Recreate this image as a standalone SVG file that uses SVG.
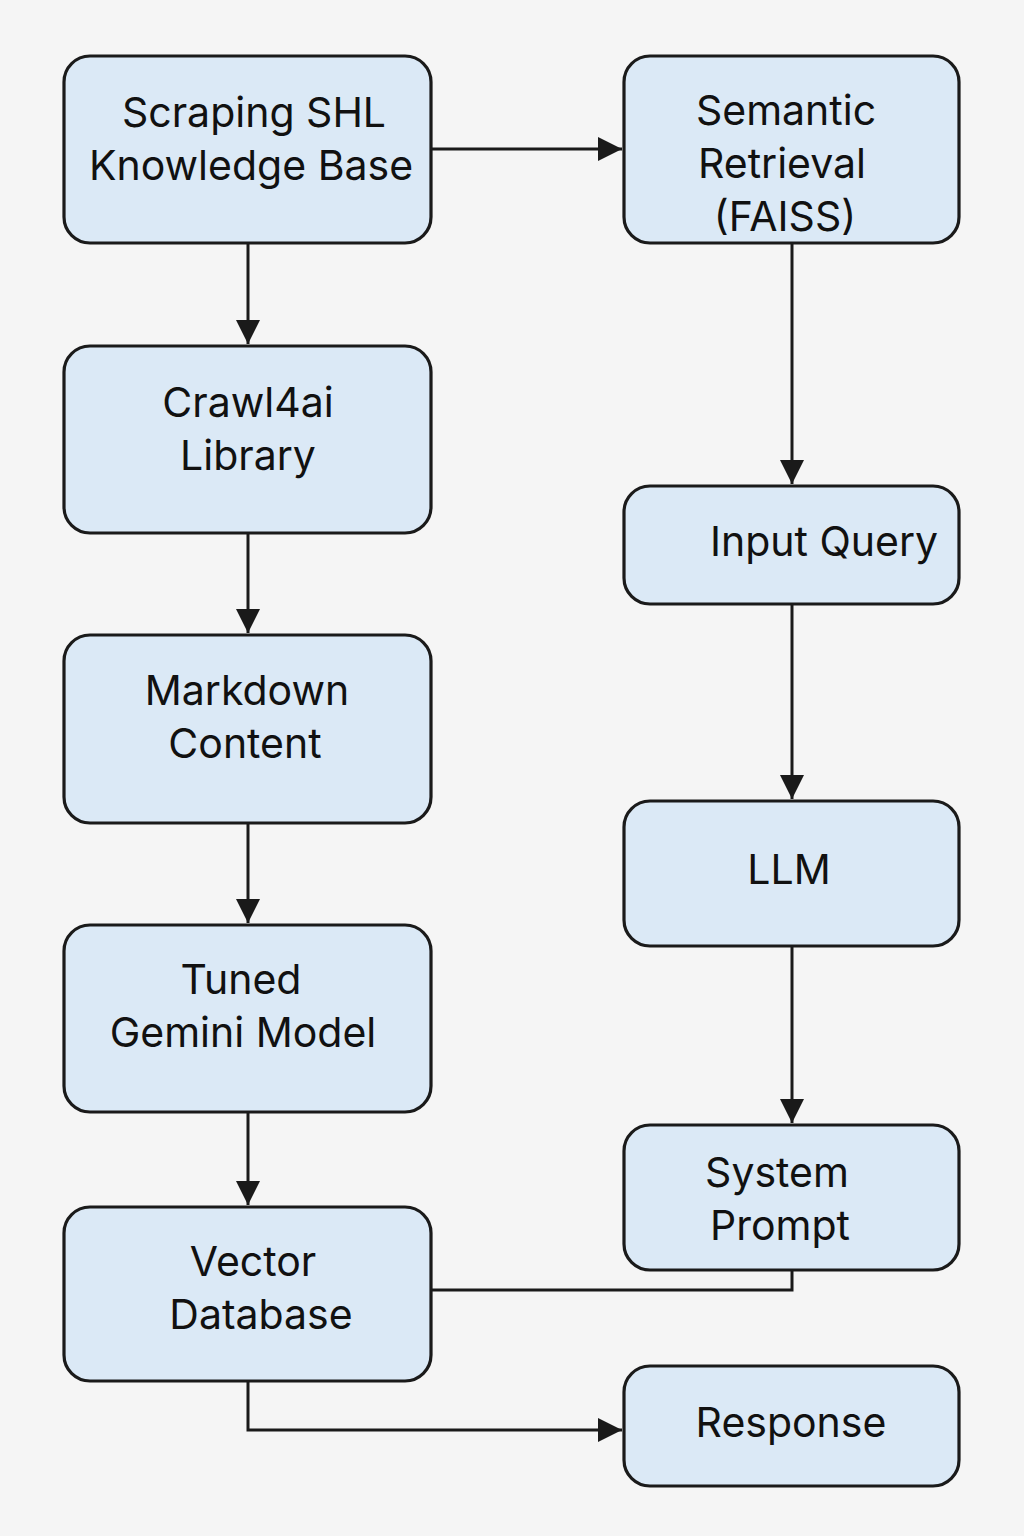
<svg xmlns="http://www.w3.org/2000/svg" width="1024" height="1536" viewBox="0 0 1024 1536">
<style>
.box{fill:#dbe9f6;stroke:#1a1a1a;stroke-width:3.2}
.t{font-family:Inter,"Noto Sans","DejaVu Sans",sans-serif;font-size:41px;fill:#111;text-anchor:middle}
.c{fill:none;stroke:#1a1a1a;stroke-width:3}
</style>
<defs>
<marker id="ah" markerUnits="userSpaceOnUse" markerWidth="26" markerHeight="26" viewBox="0 0 26 26" refX="24" refY="13" orient="auto">
<path d="M0,1 L24,13 L0,25 Z" fill="#1a1a1a"/>
</marker>
</defs>
<rect width="1024" height="1536" fill="#f5f5f5"/>
<g id="connectors">
<line class="c" x1="431" y1="149" x2="622" y2="149" marker-end="url(#ah)"/>
<line class="c" x1="248" y1="243" x2="248" y2="344" marker-end="url(#ah)"/>
<line class="c" x1="248" y1="533" x2="248" y2="633" marker-end="url(#ah)"/>
<line class="c" x1="248" y1="823" x2="248" y2="923" marker-end="url(#ah)"/>
<line class="c" x1="248" y1="1112" x2="248" y2="1205" marker-end="url(#ah)"/>
<line class="c" x1="792" y1="243" x2="792" y2="484" marker-end="url(#ah)"/>
<line class="c" x1="792" y1="604" x2="792" y2="799" marker-end="url(#ah)"/>
<line class="c" x1="792" y1="946" x2="792" y2="1123" marker-end="url(#ah)"/>
<polyline class="c" points="792,1270 792,1290 431,1290"/>
<polyline class="c" points="248,1381 248,1430 622,1430" marker-end="url(#ah)"/>
</g>
<g id="scraping">
<rect class="box" x="64" y="56" width="367" height="187" rx="26"/>
<text class="t" x="254" y="127">Scraping SHL</text>
<text class="t" x="251" y="180">Knowledge Base</text>
</g>
<g id="crawl4ai">
<rect class="box" x="64" y="346" width="367" height="187" rx="26"/>
<text class="t" x="248" y="417">Crawl4ai</text>
<text class="t" x="248" y="470">Library</text>
</g>
<g id="markdown">
<rect class="box" x="64" y="635" width="367" height="188" rx="26"/>
<text class="t" x="247" y="705">Markdown</text>
<text class="t" x="245" y="758">Content</text>
</g>
<g id="gemini">
<rect class="box" x="64" y="925" width="367" height="187" rx="26"/>
<text class="t" x="241" y="994">Tuned</text>
<text class="t" x="243" y="1047">Gemini Model</text>
</g>
<g id="vectordb">
<rect class="box" x="64" y="1207" width="367" height="174" rx="26"/>
<text class="t" x="253" y="1276">Vector</text>
<text class="t" x="261" y="1329">Database</text>
</g>
<g id="semantic">
<rect class="box" x="624" y="56" width="335" height="187" rx="26"/>
<text class="t" x="786" y="125">Semantic</text>
<text class="t" x="782" y="178">Retrieval</text>
<text class="t" x="785" y="231">(FAISS)</text>
</g>
<g id="input">
<rect class="box" x="624" y="486" width="335" height="118" rx="26"/>
<text class="t" x="824" y="556">Input Query</text>
</g>
<g id="llm">
<rect class="box" x="624" y="801" width="335" height="145" rx="26"/>
<text class="t" x="789" y="884">LLM</text>
</g>
<g id="sysprompt">
<rect class="box" x="624" y="1125" width="335" height="145" rx="26"/>
<text class="t" x="777" y="1187">System</text>
<text class="t" x="780" y="1240">Prompt</text>
</g>
<g id="response">
<rect class="box" x="624" y="1366" width="335" height="120" rx="26"/>
<text class="t" x="791" y="1437">Response</text>
</g>
</svg>
